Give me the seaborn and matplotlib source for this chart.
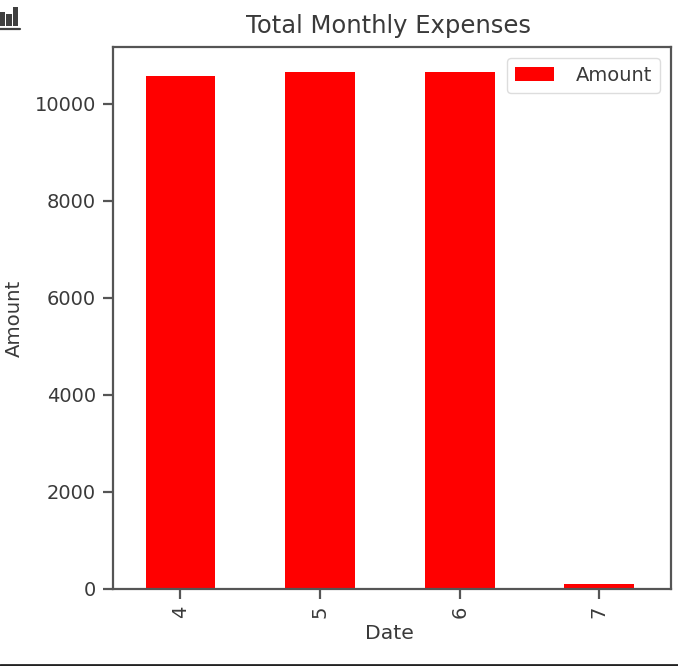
import matplotlib
matplotlib.use("Agg")
import matplotlib.pyplot as plt
import pandas as pd
import seaborn as sns
from matplotlib.lines import Line2D

# Values
months = [4, 5, 6, 7]
amounts = [10570, 10650, 10650, 110]
icon_heights = [14, 12, 19]

W, H = 678, 666
INK = "#3a3a3a"

sns.set_style("white")
plt.rcParams["font.family"] = ["DejaVu Sans"]
plt.rcParams["text.color"] = INK
plt.rcParams["axes.labelcolor"] = INK
plt.rcParams["xtick.color"] = INK
plt.rcParams["ytick.color"] = INK

df = pd.DataFrame({"Date": months, "Amount": amounts})

fig = plt.figure(figsize=(W / 100, H / 100), dpi=100)
ax = fig.add_axes([112.5 / W, 1 - 589 / H, 558.5 / W, 542 / H])

sns.barplot(data=df, x="Date", y="Amount", color="red", width=0.5,
            saturation=1, label="Amount", linewidth=0, ax=ax)
ax.set_xlim(-0.487, 3.513)
ax.set_ylim(0, 11165)
ax.set_yticks([0, 2000, 4000, 6000, 8000, 10000])
ax.tick_params(axis="both", labelsize=14, length=7, width=1.6,
               color="#555555", left=True, bottom=True, pad=5)
ax.tick_params(axis="x", labelrotation=90)
ax.set_title("Total Monthly Expenses", fontsize=17.5, pad=10, color=INK, x=0.495)
ax.set_xlabel("Date", fontsize=14.7, labelpad=4, x=0.495)
ax.set_ylabel("Amount", fontsize=14.2, labelpad=8)
for spine in ax.spines.values():
    spine.set_color("#555555")
    spine.set_linewidth(1.6)

ax.legend(loc="upper right", fontsize=14, frameon=True, edgecolor="#dddddd",
          framealpha=1, handlelength=2, handletextpad=1.1,
          borderaxespad=0.55, borderpad=0.42)

# Toolbar icon in the top left corner
icon = fig.add_axes([0, 1 - 26 / H, 18 / W, 20 / H])
sns.barplot(x=[0, 1, 2], y=icon_heights, color="#3f3f3f", saturation=1,
            width=0.85, linewidth=0, ax=icon)
icon.set_xlim(-0.3, 2.37)
icon.set_ylim(0, 20)
icon.axis("off")
fig.add_artist(Line2D([0, 20 / W], [1 - 29 / H, 1 - 29 / H], color="#3f3f3f", lw=1.6))

# Dark rule along the bottom edge
fig.add_artist(Line2D([0, 1], [1 - 664.5 / H, 1 - 664.5 / H], color="#222222", lw=2))

fig.savefig("out.png", dpi=100)
